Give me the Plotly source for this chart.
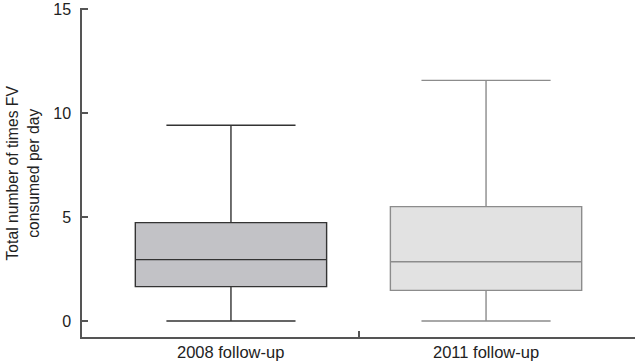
import plotly.graph_objects as go

categories = ["2008 follow-up", "2011 follow-up"]
lower_whisker = [0.0, 0.0]
q1_vals = [1.65, 1.47]
medians = [2.95, 2.85]
q3_vals = [4.73, 5.5]
upper_whisker = [9.41, 11.57]
y_ticks = [0, 5, 10, 15]

fills = ["#c2c2c6", "#e2e2e2"]
lines = ["#333333", "#8c8c8c"]

fig = go.Figure()
for i, cat in enumerate(categories):
    fig.add_trace(go.Box(
        x=[i], q1=[q1_vals[i]], median=[medians[i]], q3=[q3_vals[i]],
        lowerfence=[lower_whisker[i]], upperfence=[upper_whisker[i]],
        width=0.75, whiskerwidth=0.675,
        fillcolor=fills[i], line=dict(color=lines[i], width=1.4),
        boxpoints=False, showlegend=False, hoverinfo="skip",
    ))

# category labels
for i, cat in enumerate(categories):
    fig.add_annotation(x=i, y=0, xref="x", yref="paper", yshift=-15,
                       text=cat, showarrow=False, yanchor="middle",
                       font=dict(size=16.5, color="#222"))

fig.add_annotation(x=-0.1067, y=0.5, xref="paper", yref="paper",
                   text="Total number of times FV<br>consumed per day",
                   textangle=-90, showarrow=False, xanchor="center", yanchor="middle",
                   font=dict(size=15.7, color="#222"))

fig.update_layout(
    width=636, height=364,
    margin=dict(l=82, r=1, t=8, b=27),
    paper_bgcolor="white", plot_bgcolor="white",
    font=dict(family="Liberation Sans, Arial, sans-serif", size=16, color="#222"),
    xaxis=dict(range=[-0.584, 1.584], tickvals=[0.5, 1.584], ticktext=["", ""],
               ticks="inside", ticklen=6, tickcolor="#555", tickwidth=1.5,
               showline=True, linecolor="#555", linewidth=1.5,
               showgrid=False, zeroline=False, fixedrange=True),
    yaxis=dict(range=[-0.77, 15.05], tickvals=y_ticks,
               ticks="inside", ticklen=6, tickcolor="#555", tickwidth=1.5,
               showline=True, linecolor="#555", linewidth=1.5,
               ticklabelstandoff=6,
               showgrid=False, zeroline=False, fixedrange=True,
               tickfont=dict(size=16, color="#222")),
)

fig.write_html("out.html", config={"displayModeBar": False},
               post_script="document.body.style.margin='0';document.body.style.padding='0';")
